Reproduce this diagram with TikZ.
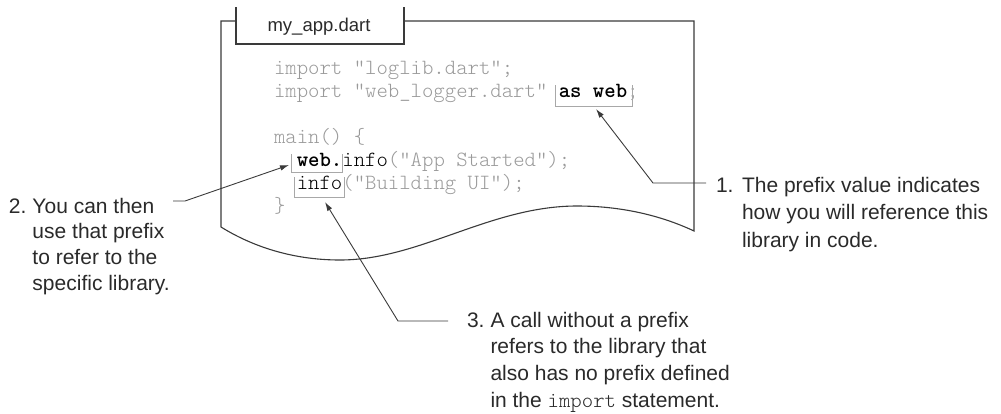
\documentclass[tikz,border=0pt]{standalone}
\usepackage{fontspec}
\setmainfont{Liberation Sans}
\setmonofont{Latin Modern Mono Light}
\usetikzlibrary{arrows.meta,calc}
\definecolor{ink}{HTML}{2A2A2A}
\definecolor{linec}{HTML}{3A3A3A}
\definecolor{codegray}{HTML}{9A9A9A}
\definecolor{brkgray}{HTML}{A8A8A8}
\begin{document}
\begin{tikzpicture}[x=1pt,y=-1pt,
  outline/.style={draw=linec,line width=1.1pt},
  code/.style={inner sep=0pt,outer sep=0pt,anchor=base west,font=\fontsize{21.7}{23}\ttfamily,text=codegray},
  codek/.style={code,text=black},
  lbl/.style={inner sep=0pt,outer sep=0pt,anchor=base west,text=ink},
  brk/.style={draw=brkgray,line width=1pt},
  conn/.style={draw=linec,line width=0.9pt,-{Latex[length=9pt,width=5.5pt]}}]
\useasboundingbox (0,0) rectangle (1001,413);
% document outline
\draw[outline] (236,21) -- (221,21) -- (221,227)
  .. controls (250,245) and (290,260) .. (340,260)
  .. controls (420,260) and (490,206) .. (577,206)
  .. controls (620,206) and (660,215) .. (694,231)
  -- (694,21) -- (404,21);
\draw[outline] (236,7) -- (236,44) -- (404,44) -- (404,7);
\node[inner sep=0pt,anchor=base,text=ink,font=\fontsize{18.5}{22}\selectfont] (tab) at (319,31.5) {my\_app.dart};
% code
\node[code] (c1) at (274,74) {import "loglib.dart";};
\node[code] (c2a) at (274,97) {import "web\_logger.dart"\hphantom{;}};
\node[codek] (c2b) at (c2a.base east) {\textbf{as web}};
\node[code] (c2c) at (c2b.base east) {;};
\node[code] (c4) at (274,143) {main() \{};
\node[codek] (c5a) at (296.8,166) {\textbf{web.}};
\node[codek] (c5b) at (c5a.base east) {info};
\node[code] (c5c) at (c5b.base east) {("App Started");};
\node[codek] (c6a) at (296.8,189) {info};
\node[code] (c6b) at (c6a.base east) {("Building UI");};
\node[code] (c7) at (274,212) {\}};
% brackets
\draw[brk] ([shift={(-3pt,12pt)}]c2b.base west) -- ([shift={(-3pt,-9pt)}]c2b.base west)
  -- ([shift={(5.5pt,-9pt)}]c2b.base east) -- ([shift={(5.5pt,12pt)}]c2b.base east);
\draw[brk] ([shift={(-5pt,12pt)}]c5a.base west) -- ([shift={(-5pt,-6pt)}]c5a.base west)
  -- ([shift={(0pt,-6pt)}]c5a.base east) -- ([shift={(0pt,12pt)}]c5a.base east);
\draw[brk] ([shift={(-2pt,12pt)}]c6a.base west) -- ([shift={(-2pt,-8pt)}]c6a.base west)
  -- ([shift={(2pt,-8pt)}]c6a.base east) -- ([shift={(2pt,12pt)}]c6a.base east);
% annotations
\node[lbl] (n1) at (716,192) {\fontsize{21}{27.5}\selectfont
  \begin{tabular}[t]{@{}l@{}l@{}}\makebox[26pt][l]{1.}&The prefix value indicates\\
  &how you will reference this\\ &library in code.\end{tabular}};
\node[lbl] (n2) at (9,213) {\fontsize{21}{25.8}\selectfont
  \begin{tabular}[t]{@{}l@{}l@{}}\makebox[23.5pt][l]{2.}&You can then\\
  &use that prefix\\ &to refer to the\\ &specific library.\end{tabular}};
\node[lbl] (n3) at (467,327) {\fontsize{21}{26.7}\selectfont
  \begin{tabular}[t]{@{}l@{}l@{}}\makebox[23.5pt][l]{3.}&A call without a prefix\\
  &refers to the library that\\ &also has no prefix defined\\
  &in the {\fontsize{21.7}{26.7}\ttfamily import} statement.\end{tabular}};
% connectors
\coordinate (e1) at (706,183);
\coordinate (b1) at (653,183);
\coordinate (t1) at (596,109);
\coordinate (e2) at (173,201);
\coordinate (b2) at (185,201);
\coordinate (t2) at (289,165);
\coordinate (e3) at (448,321);
\coordinate (b3) at (398,321);
\coordinate (t3) at (325,202);
\draw[conn] (e1) -- (b1) -- (t1);
\draw[conn] (e2) -- (b2) -- (t2);
\draw[conn] (e3) -- (b3) -- (t3);
\end{tikzpicture}
\end{document}
